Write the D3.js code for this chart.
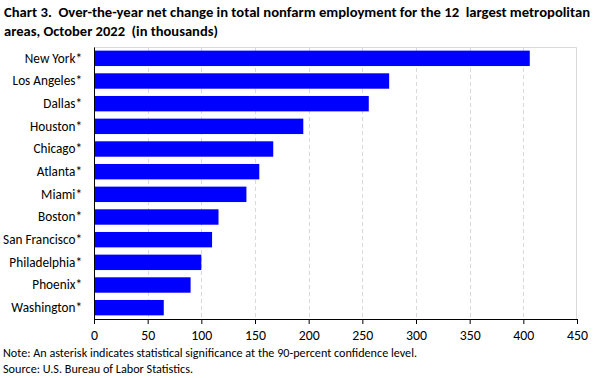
<!DOCTYPE html>
<html>
<head>
<meta charset="utf-8">
<script src="https://cdn.jsdelivr.net/npm/d3@7"></script>
<style>
  body { margin: 0; background: #fff; }
  text { font-family: Carlito, Calibri, "Liberation Sans", Arial, sans-serif; fill: #000; white-space: pre; }
</style>
</head>
<body>
<div id="chart"></div>
<script>
const areas = ["New York*", "Los Angeles*", "Dallas*", "Houston*", "Chicago*", "Atlanta*",
  "Miami*", "Boston*", "San Francisco*", "Philadelphia*", "Phoenix*", "Washington*"];
const change = [406, 275, 256, 195, 167, 154, 142, 116, 110, 100, 90, 65];
const ticks = [0, 50, 100, 150, 200, 250, 300, 350, 400, 450];

const w = 596, h = 378;
const margin = { top: 47, right: 19, bottom: 59, left: 94 };
const iw = w - margin.left - margin.right;
const ih = h - margin.top - margin.bottom;

const svg = d3.select("#chart").append("svg")
  .attr("width", w).attr("height", h);

// fit text to the widths
const fit = (sel, target) => sel.each(function () {
  const len = this.getComputedTextLength();
  if (Math.abs(len - target) > 1) d3.select(this).attr("textLength", target).attr("lengthAdjust", "spacingAndGlyphs");
});
// font size that makes a sample string a given width
const sizeFor = (str, target) => {
  const t = svg.append("text").style("font-size", "12px").text(str);
  const len = t.node().getComputedTextLength();
  t.remove();
  return 12 * target / len;
};

// title
const title = svg.append("text")
  .style("font-size", "14px").style("font-weight", "bold");
fit(title.append("tspan").attr("x", 4).attr("y", 17)
  .text("Chart 3.  Over-the-year net change in total nonfarm employment for the 12  largest metropolitan"), 586);
fit(title.append("tspan").attr("x", 4).attr("y", 36)
  .text("areas, October 2022  (in thousands)"), 214);

const g = svg.append("g").attr("transform", `translate(${margin.left},${margin.top})`);

const x = d3.scaleLinear().domain([0, 450]).range([0, iw]);
const y = d3.scaleBand().domain(areas).range([0, ih]).paddingInner(0.32).paddingOuter(0.16);

// plot border (top/right)
g.append("path")
  .attr("d", `M0,0.5H${iw - 0.5}V${ih}`)
  .attr("fill", "none").attr("stroke", "#d9d9d9").attr("stroke-width", 1);

// gridlines
g.selectAll(".grid").data(ticks.filter(t => t > 0 && t < 450)).enter()
  .append("line")
  .attr("x1", d => Math.round(x(d)) + 0.5).attr("x2", d => Math.round(x(d)) + 0.5)
  .attr("y1", 0).attr("y2", ih)
  .attr("stroke", "#d9d9d9").attr("stroke-dasharray", "4,3");

// bars
g.selectAll(".bar").data(areas).enter()
  .append("rect")
  .attr("x", 0)
  .attr("y", d => y(d))
  .attr("width", (d, i) => x(change[i]))
  .attr("height", y.bandwidth())
  .attr("fill", "#0000ff");

// x axis
const tickSize = sizeFor("450", 21);
const xAxis = g.append("g")
  .attr("transform", `translate(0,${ih})`)
  .call(d3.axisBottom(x).tickValues(ticks).tickSize(5).tickSizeOuter(0));
xAxis.select(".domain").attr("stroke", "#000");
xAxis.selectAll(".tick line").attr("stroke", "#000");
xAxis.selectAll("text").style("font-size", tickSize + "px")
  .attr("fill", "#404040").attr("dy", "0.95em");

// y axis
const labelSize = sizeFor("San Francisco*", 79);
const yAxis = g.append("g")
  .call(d3.axisLeft(y).tickSize(0).tickPadding(12));
yAxis.select(".domain").attr("stroke", "#000");
yAxis.selectAll("text").style("font-size", labelSize + "px").attr("fill", "#404040");

// notes
fit(svg.append("text").attr("x", 3).attr("y", 357).style("font-size", "12px")
  .text("Note: An asterisk indicates statistical significance at the 90-percent confidence level."), 414);
fit(svg.append("text").attr("x", 3).attr("y", 373).style("font-size", "12px")
  .text("Source: U.S. Bureau of Labor Statistics."), 190);
</script>
</body>
</html>
